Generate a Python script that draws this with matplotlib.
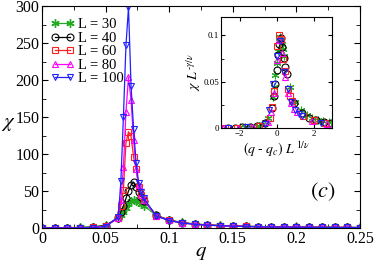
import matplotlib
matplotlib.use("Agg")
import matplotlib.pyplot as plt
from matplotlib.ticker import MultipleLocator
import numpy as np

plt.rcParams['font.family'] = ['Liberation Serif', 'DejaVu Serif']
plt.rcParams['mathtext.fontset'] = 'stix'

# --- data ---
q = [0.00, 0.01, 0.02, 0.03, 0.04, 0.05,
     0.060, 0.062, 0.064, 0.066, 0.068, 0.070, 0.072, 0.074, 0.076, 0.078, 0.080,
     0.09, 0.10, 0.11, 0.12, 0.13, 0.14, 0.15, 0.16, 0.17, 0.18, 0.19,
     0.20, 0.21, 0.22, 0.23, 0.24, 0.25]

chi_30 = [0.3, 0.4, 0.6, 0.9, 1.5, 4.0,
          13, 17, 22, 27, 32, 36, 38, 37, 35, 33, 30,
          17, 11, 7.5, 5.5, 4.3, 3.5, 2.9, 2.4, 2.0, 1.7, 1.5, 1.3, 1.1, 1.0, 0.9, 0.8, 0.7]
chi_40 = [0.2, 0.3, 0.4, 0.6, 1.1, 3.2,
          14, 22, 30, 40, 50, 58, 62, 56, 48, 42, 37,
          17, 10.5, 7.2, 5.3, 4.1, 3.3, 2.7, 2.2, 1.9, 1.6, 1.4, 1.2, 1.0, 0.9, 0.8, 0.7, 0.6]
chi_60 = [0.1, 0.2, 0.3, 0.4, 0.7, 2.6,
          14, 30, 52, 115, 130, 124, 96, 80, 55, 45, 38,
          16.5, 10.5, 7.0, 5.2, 4.0, 3.2, 2.6, 2.1, 1.8, 1.5, 1.3, 1.1, 1.0, 0.9, 0.8, 0.7, 0.6]
chi_80 = [0.1, 0.1, 0.2, 0.3, 0.5, 2.2,
          14, 38, 82, 157, 204, 173, 119, 80, 58, 45, 38,
          16, 10.2, 6.9, 5.1, 3.9, 3.1, 2.5, 2.1, 1.7, 1.5, 1.3, 1.1, 1.0, 0.9, 0.8, 0.7, 0.6]
chi_100 = [0.1, 0.1, 0.1, 0.2, 0.4, 2.0,
           15, 63, 150, 247, 298, 192, 134, 88, 61, 48, 40,
           16, 10, 6.8, 5.0, 3.8, 3.0, 2.5, 2.0, 1.7, 1.5, 1.3, 1.1, 1.0, 0.9, 0.8, 0.7, 0.6]

sizes = [30, 40, 60, 80, 100]
series = [chi_30, chi_40, chi_60, chi_80, chi_100]
colors = ['#22aa22', 'black', '#ff2020', '#ff00ff', '#2020ff']
markers = [(6, 2, 0), 'o', 's', '^', 'v']

# scaling used for the data collapse in the inset
q_c = 0.066
nu = 1.0
gamma_over_nu = 1.75

fig = plt.figure(figsize=(3.74, 2.61), dpi=100)
ax = fig.add_axes([0.1123, 0.1264, 0.8503, 0.8506])

for L, chi, c, m in zip(sizes, series, colors, markers):
    star = not isinstance(m, str)
    ax.plot(q, chi, color=c, lw=0.9, marker=m, ms=6 if star else 5,
            mfc='none', mec=c, mew=1.0 if star else 0.8, label=f"L = {L}")

ax.set_xlim(0, 0.25)
ax.set_ylim(0, 300)
ax.set_xticks([0, 0.05, 0.1, 0.15, 0.2, 0.25])
ax.set_xticklabels(['0', '0.05', '0.1', '0.15', '0.2', '0.25'])
ax.xaxis.set_minor_locator(MultipleLocator(0.025))
ax.yaxis.set_major_locator(MultipleLocator(50))
ax.yaxis.set_minor_locator(MultipleLocator(25))
ax.tick_params(which='both', direction='in', top=True, right=True, labelsize=11.5, pad=2)
ax.tick_params(which='major', length=4)
ax.tick_params(which='minor', length=3)
ax.set_xlabel(r'$q$', fontsize=15, labelpad=-3)
ax.set_ylabel(r'$\chi$', fontsize=15, rotation=0, ha='center', va='center')
ax.yaxis.set_label_coords(-0.105, 0.47)
ax.text(0.221, 49, r'$(c)$', fontsize=16, ha='center', va='center')

leg = ax.legend(loc='upper left', frameon=False, fontsize=10.5, handlelength=1.6,
                handletextpad=0.25, labelspacing=0.02, borderaxespad=0.2,
                numpoints=2, bbox_to_anchor=(0.0, 0.985))

# inset: data collapse
ins = fig.add_axes([0.591, 0.5096, 0.2968, 0.4254])
for L, chi, c, m in zip(sizes, series, colors, markers):
    x = (np.array(q) - q_c) * L ** (1 / nu)
    y = np.array(chi) * L ** (-gamma_over_nu)
    star = not isinstance(m, str)
    ins.plot(x, y, ls='none', marker=m, ms=5.5 if star else 5,
             mfc='none', mec=c, mew=0.8, color=c)
ins.set_xlim(-3, 3)
ins.set_ylim(0, 0.12)
ins.set_xticks([-2, 0, 2])
ins.set_yticks([0, 0.05, 0.1])
ins.set_yticklabels(['0', '0.05', '0.1'])
ins.yaxis.set_minor_locator(MultipleLocator(0.025))
ins.tick_params(which='both', direction='in', top=True, right=True, labelsize=6.5, pad=1.5)
ins.tick_params(which='major', length=3)
ins.tick_params(axis='y', which='minor', length=2)
ins.set_xlabel(r'$(q\ \text{-}\ q_c)\ L^{\,1/\nu}$', fontsize=10, labelpad=1)
ins.set_ylabel(r'$\chi\ L^{\,\text{-}\gamma/\nu}$', fontsize=10, labelpad=0)

fig.savefig('out.png', dpi=100)
